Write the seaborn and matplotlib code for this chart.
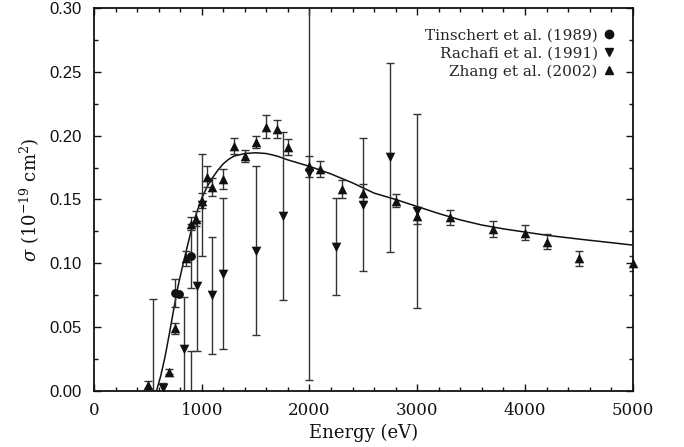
import numpy as np
import pandas as pd
import seaborn as sns
import matplotlib
matplotlib.use("Agg")
import matplotlib.pyplot as plt
from matplotlib.ticker import AutoMinorLocator, FormatStrFormatter
from matplotlib.lines import Line2D

# --- data (energy in eV, sigma in 1e-19 cm^2) ---
# Tinschert et al. (1989) - circles
tin_e = [752, 792, 905]
tin_s = [0.077, 0.076, 0.106]
tin_err = [0.011, 0.0, 0.025]

# Rachafi et al. (1991) - down triangles
rac_e = [550, 640, 836, 900, 953, 1000, 1100, 1200, 1500, 1750, 2000, 2250, 2500, 2750, 3000]
rac_s = [-0.005, 0.002, 0.033, -0.010, 0.082, 0.146, 0.075, 0.092, 0.110, 0.137,
         0.171, 0.113, 0.146, 0.183, 0.141]
rac_err = [0.077, 0.004, 0.041, 0.041, 0.051, 0.040, 0.046, 0.059, 0.066, 0.066,
           0.162, 0.038, 0.052, 0.074, 0.076]

# Zhang et al. (2002) - up triangles
zh_e = [500, 700, 750, 850, 900, 950, 1000, 1050, 1100, 1200, 1300, 1400, 1500, 1600,
        1700, 1800, 2000, 2100, 2300, 2500, 2800, 3000, 3300, 3700, 4000, 4200, 4500, 5000]
zh_s = [0.005, 0.015, 0.049, 0.104, 0.131, 0.135, 0.149, 0.168, 0.160, 0.166, 0.192,
        0.184, 0.195, 0.207, 0.205, 0.191, 0.176, 0.174, 0.158, 0.155, 0.149, 0.137,
        0.136, 0.127, 0.124, 0.117, 0.104, 0.100]
zh_err = [0.003, 0.002, 0.004, 0.006, 0.005, 0.006, 0.006, 0.008, 0.007, 0.008, 0.006,
          0.005, 0.005, 0.009, 0.007, 0.006, 0.008, 0.006, 0.007, 0.007, 0.005, 0.006,
          0.006, 0.006, 0.006, 0.006, 0.006, 0.006]

# fitted curve
fit_e = [580, 620, 660, 700, 740, 780, 820, 860, 900, 950, 1000, 1050, 1100, 1150, 1200,
         1250, 1300, 1400, 1500, 1600, 1700, 1800, 2000, 2200, 2400, 2600, 2800, 3000,
         3200, 3400, 3600, 3800, 4000, 4200, 4500, 5000]
fit_s = [0.0, 0.012, 0.027, 0.045, 0.064, 0.082, 0.097, 0.111, 0.125, 0.139, 0.151,
         0.160, 0.167, 0.173, 0.178, 0.1815, 0.184, 0.186, 0.1866, 0.186, 0.184, 0.181,
         0.176, 0.170, 0.163, 0.155, 0.150, 0.1445, 0.139, 0.134, 0.130, 0.127, 0.1245,
         0.122, 0.119, 0.1143]

INK = "#111111"
BAR = "#333333"

sns.set_style("ticks")
plt.rcParams["font.family"] = ["DejaVu Serif"]
plt.rcParams["mathtext.fontset"] = "dejavuserif"

fig = plt.figure(figsize=(6.84, 4.47), dpi=100)
ax = fig.add_axes([0.1374, 0.1253, 0.7876, 0.8568])

# fit line
sns.lineplot(x=fit_e, y=fit_s, ax=ax, color=INK, lw=1.1, estimator=None, sort=False)

# error bars
ax.errorbar(tin_e, tin_s, yerr=tin_err, fmt="none", ecolor=BAR, elinewidth=1,
            capsize=3, capthick=1, zorder=2)
ax.errorbar(rac_e, rac_s, yerr=rac_err, fmt="none", ecolor=BAR, elinewidth=1,
            capsize=3, capthick=1, zorder=2)
ax.errorbar(zh_e, zh_s, yerr=zh_err, fmt="none", ecolor=BAR, elinewidth=1,
            capsize=3, capthick=1, zorder=2)

# markers
sns.scatterplot(x=tin_e, y=tin_s, ax=ax, marker="o", s=40, color=INK,
                edgecolor=INK, linewidth=0, zorder=3)
sns.scatterplot(x=rac_e, y=rac_s, ax=ax, marker="v", s=48, color=INK,
                edgecolor=INK, linewidth=0, zorder=3)
sns.scatterplot(x=zh_e, y=zh_s, ax=ax, marker="^", s=48, color=INK,
                edgecolor=INK, linewidth=0, zorder=3)
ax.collections[-1].set_clip_on(False)

ax.set_xlim(0, 5000)
ax.set_ylim(0, 0.30)
ax.set_xticks([0, 1000, 2000, 3000, 4000, 5000])
ax.set_yticks([0.0, 0.05, 0.10, 0.15, 0.20, 0.25, 0.30])
ax.yaxis.set_major_formatter(FormatStrFormatter("%.2f"))
ax.xaxis.set_minor_locator(AutoMinorLocator(5))
ax.yaxis.set_minor_locator(AutoMinorLocator(2))
ax.tick_params(which="both", direction="in", top=True, right=True, color=INK,
               width=1, labelcolor=INK)
ax.tick_params(which="major", length=5)
ax.tick_params(which="minor", length=3)
ax.tick_params(axis="x", labelsize=12, pad=8)
ax.tick_params(axis="y", labelsize=12, pad=9)
for lab in ax.get_yticklabels():
    lab.set_family(["Liberation Sans"])
for sp in ax.spines.values():
    sp.set_linewidth(1.3)
    sp.set_color(INK)

ax.set_xlabel("Energy (eV)", fontsize=13, color=INK, labelpad=3)
ax.set_ylabel(r"$\sigma$ (10$^{-19}$ cm$^2$)", fontsize=13, color=INK, labelpad=5)

handles = [
    Line2D([], [], ls="none", marker="o", ms=6, color=INK, label="Tinschert et al. (1989)"),
    Line2D([], [], ls="none", marker="v", ms=6, color=INK, label="Rachafi et al. (1991)"),
    Line2D([], [], ls="none", marker="^", ms=6, color=INK, label="Zhang et al. (2002)"),
]
ax.legend(handles=handles, loc="upper right", bbox_to_anchor=(0.975, 0.962),
          frameon=False, markerfirst=False, handlelength=0.6, handletextpad=0.4,
          labelspacing=0.25, fontsize=11, borderaxespad=0)

fig.savefig("out.png", dpi=100)
